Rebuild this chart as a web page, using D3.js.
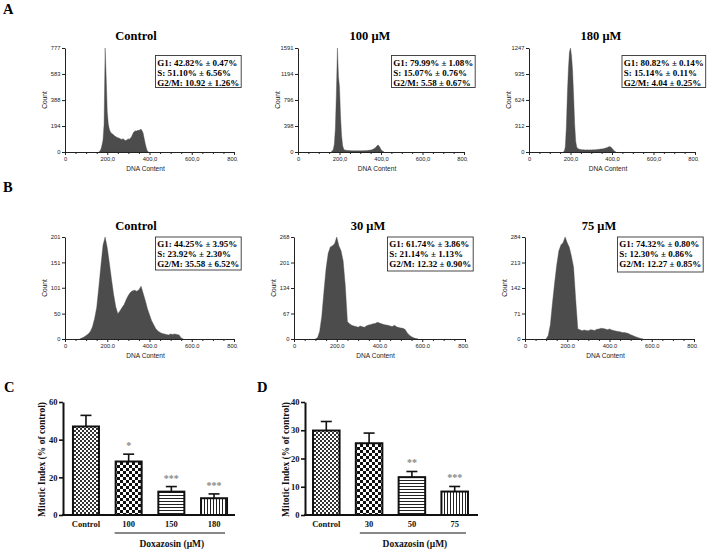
<!DOCTYPE html>
<html><head><meta charset="utf-8">
<script src="https://cdn.jsdelivr.net/npm/d3@7"></script>
<style>body{margin:0;background:#fff}svg{display:block}</style>
</head><body><svg id="c" width="710" height="553"></svg>
<script>
// ---------------- DATA ----------------
const dnaTicks = [0, 200, 400, 600, 800];
const dnaTickLabelsA = ["0", "200,0", "400,0", "600,0", "800,0"];
const dnaTickLabelsB = ["0", "200.0", "400.0", "600.0", "800.0"];

// Panel A histograms (DNA channel start, channel step, counts)
const ctrlA_start = 160, ctrlA_step = 5;
const ctrlA_counts = [0,5,20,50,90,210,777,560,300,210,170,150,140,135,128,120,115,110,106,104,100,96,94,100,92,86,88,94,98,96,104,114,132,148,155,158,156,164,160,166,170,158,140,100,62,30,8,0];
const ctrlA_yTicks = [0, 194, 388, 583, 777];
const ctrlA_legend = ["G1: 42.82% \u00b1 0.47%", "S: 51.10% \u00b1 6.56%", "G2/M: 10.92 \u00b1 1.26%"];

const dox100_start = 160, dox100_step = 5;
const dox100_counts = [0,15,40,120,350,900,1591,1150,1000,550,250,100,45,32,28,25,24,22,22,20,21,19,18,20,18,19,18,20,18,20,21,20,22,21,22,24,25,27,30,34,40,48,58,72,92,108,96,68,40,18,6,0];
const dox100_yTicks = [0, 398, 796, 1194, 1591];
const dox100_legend = ["G1: 79.99% \u00b1 1.08%", "S: 15.07% \u00b1 0.76%", "G2/M: 5.58 \u00b1 0.67%"];

const dox180_start = 165, dox180_step = 5;
const dox180_counts = [0,10,60,300,700,1000,1200,1247,1150,980,680,340,130,60,42,36,32,30,28,26,27,25,24,26,25,24,26,25,27,26,28,27,29,30,32,33,35,36,38,40,44,48,52,58,62,65,58,46,30,14,4,0];
const dox180_yTicks = [0, 312, 624, 935, 1247];
const dox180_legend = ["G1: 80.82% \u00b1 0.14%", "S: 15.14% \u00b1 0.11%", "G2/M: 4.04 \u00b1 0.25%"];

// Panel B histograms
const ctrlB_start = 70, ctrlB_step = 10;
const ctrlB_counts = [0,2,4,7,10,15,24,40,62,102,145,185,201,180,150,118,88,64,50,55,62,68,78,86,92,95,96,94,97,104,90,76,60,48,36,28,20,16,13,11,10,9,8,10,9,10,9,8,2,0];
const ctrlB_yTicks = [0, 50, 101, 151, 201];
const ctrlB_legend = ["G1: 44.25% \u00b1 3.95%", "S: 23.92% \u00b1 2.30%", "G2/M: 35.58 \u00b1 6.52%"];

const dox30_start = 100, dox30_step = 10;
const dox30_counts = [0,3,20,60,125,185,225,242,245,250,268,245,232,205,140,45,40,36,34,33,31,34,32,31,35,37,38,40,41,44,42,40,38,37,36,34,33,36,32,30,29,28,25,16,10,6,3,1,0];
const dox30_yTicks = [0, 67, 134, 201, 268];
const dox30_legend = ["G1: 61.74% \u00b1 3.86%", "S: 21.14% \u00b1 1.13%", "G2/M: 12.32 \u00b1 0.90%"];

const dox75_start = 100, dox75_step = 10;
const dox75_counts = [0,10,40,100,155,205,245,262,268,284,268,255,230,200,110,28,26,23,25,24,23,26,25,24,27,28,30,29,28,26,28,25,24,22,21,20,18,18,17,15,12,10,7,5,3,1,0];
const dox75_yTicks = [0, 71, 142, 213, 284];
const dox75_legend = ["G1: 74.32% \u00b1 0.80%", "S: 12.30% \u00b1 0.86%", "G2/M: 12.27 \u00b1 0.85%"];

// Panel C / D bar charts
const catsC = ["Control", "100", "150", "180"];
const meanC = [47.0, 28.4, 12.4, 8.9];
const semC  = [5.9, 3.9, 2.7, 2.3];
const starsC = ["", "*", "***", "***"];
const yTicksC = [0, 20, 40, 60];

const catsD = ["Control", "30", "50", "75"];
const meanD = [29.9, 25.4, 13.4, 8.3];
const semD  = [3.2, 3.6, 2.0, 1.8];
const starsD = ["", "", "**", "***"];
const yTicksD = [0, 10, 20, 30, 40];

// ---------------- DRAWING ----------------
const svg = d3.select("#c");
svg.append("rect").attr("width", 710).attr("height", 553).attr("fill", "#fff");
const defs = svg.append("defs");

const SANS = "'Liberation Sans', Arial, sans-serif";
const SERIF = "'Liberation Serif', 'Times New Roman', serif";

function toSeries(start, step, counts) {
  return counts.map((c, i) => ({ dna: start + i * step, count: c }));
}

let clipId = 0;
function drawHist(o) {
  const x = d3.scaleLinear().domain([0, 800]).range([o.x0, o.x1]);
  const ymax = o.yTicks[o.yTicks.length - 1];
  const y = d3.scaleLinear().domain([0, ymax]).range([o.yBot, o.yTop]);
  const id = "clip" + (clipId++);
  defs.append("clipPath").attr("id", id).append("rect")
    .attr("x", o.x0 - 40).attr("y", o.yTop - 30).attr("width", o.x1 - o.x0 + 44).attr("height", o.yBot - o.yTop + 60);
  const g = svg.append("g").attr("clip-path", `url(#${id})`);

  const area = d3.area().x(d => x(d.dna)).y0(y(0)).y1(d => y(d.count)).curve(d3.curveLinear);
  g.append("path").datum(o.series).attr("d", area).attr("fill", "#4c4c4c").attr("stroke", "#4c4c4c").attr("stroke-width", 0.4);

  // y axis
  const ya = g.append("g").attr("transform", `translate(${o.x0},0)`)
    .call(d3.axisLeft(y).tickValues(o.yTicks).tickFormat(d => String(d)).tickSize(3).tickPadding(1.5).tickSizeOuter(0));
  ya.select(".domain").attr("stroke", "#222");
  ya.selectAll("line").attr("stroke", "#222");
  ya.selectAll("text").attr("font-family", SANS).attr("font-size", 5.8).attr("fill", "#222");

  // x axis with minor ticks
  const minor = d3.range(0, 801, 50).filter(v => v % 200 !== 0);
  const xm = g.append("g").attr("transform", `translate(0,${o.yBot})`)
    .call(d3.axisBottom(x).tickValues(minor).tickSize(2).tickFormat(""));
  xm.select(".domain").remove();
  xm.selectAll("line").attr("stroke", "#222");
  const xa = g.append("g").attr("transform", `translate(0,${o.yBot})`)
    .call(d3.axisBottom(x).tickValues(dnaTicks).tickSize(3).tickPadding(1.5).tickSizeOuter(0)
      .tickFormat((d, i) => o.xLabels[i]));
  xa.select(".domain").attr("stroke", "#222");
  xa.selectAll("line").attr("stroke", "#222");
  xa.selectAll("text").attr("font-family", SANS).attr("font-size", 5.8).attr("fill", "#222");

  g.append("text").attr("transform", `translate(${o.x0 - 18},${(o.yTop + o.yBot) / 2}) rotate(-90)`)
    .attr("text-anchor", "middle").attr("font-family", SANS).attr("font-size", 6.6).attr("fill", "#222").text("Count");
  g.append("text").attr("x", (o.x0 + o.x1) / 2 - 4).attr("y", o.yBot + 19)
    .attr("text-anchor", "middle").attr("font-family", SANS).attr("font-size", 6.6).attr("fill", "#222").text("DNA Content");

  // title
  svg.append("text").attr("x", o.titleX).attr("y", o.titleY).attr("text-anchor", "middle")
    .attr("font-family", SERIF).attr("font-weight", "bold").attr("font-size", 12.5).text(o.title);

  // legend box
  const lg = svg.append("g");
  const tx = lg.selectAll("text").data(o.legend).join("text")
    .attr("x", o.boxX + 2.2).attr("y", (d, i) => o.boxY + 10.5 + i * 10)
    .attr("font-family", SERIF).attr("font-weight", "bold").attr("font-size", 9).text(d => d);
  let w = 0;
  tx.each(function () { w = Math.max(w, this.getComputedTextLength()); });
  lg.insert("rect", "text").attr("x", o.boxX + 0.5).attr("y", o.boxY + 0.5)
    .attr("width", w + 3.5).attr("height", o.boxH).attr("fill", "#fff").attr("stroke", "#333").attr("stroke-width", 0.9);
}

const histDefs = [
  { series: toSeries(ctrlA_start, ctrlA_step, ctrlA_counts), yTicks: ctrlA_yTicks, legend: ctrlA_legend, xLabels: dnaTickLabelsA,
    x0: 65, x1: 234, yTop: 48, yBot: 152, title: "Control", titleX: 136, titleY: 40, boxX: 155, boxY: 55, boxH: 32 },
  { series: toSeries(dox100_start, dox100_step, dox100_counts), yTicks: dox100_yTicks, legend: dox100_legend, xLabels: dnaTickLabelsA,
    x0: 298, x1: 464, yTop: 48, yBot: 152, title: "100 \u03bcM", titleX: 370, titleY: 40, boxX: 391, boxY: 55, boxH: 32 },
  { series: toSeries(dox180_start, dox180_step, dox180_counts), yTicks: dox180_yTicks, legend: dox180_legend, xLabels: dnaTickLabelsA,
    x0: 529, x1: 695, yTop: 48, yBot: 152, title: "180 \u03bcM", titleX: 601, titleY: 40, boxX: 621.5, boxY: 55, boxH: 32 },
  { series: toSeries(ctrlB_start, ctrlB_step, ctrlB_counts), yTicks: ctrlB_yTicks, legend: ctrlB_legend, xLabels: dnaTickLabelsB,
    x0: 65, x1: 234, yTop: 237, yBot: 339, title: "Control", titleX: 136, titleY: 230, boxX: 155, boxY: 236.5, boxH: 33 },
  { series: toSeries(dox30_start, dox30_step, dox30_counts), yTicks: dox30_yTicks, legend: dox30_legend, xLabels: dnaTickLabelsB,
    x0: 294, x1: 465, yTop: 237, yBot: 339, title: "30 \u03bcM", titleX: 368, titleY: 230, boxX: 387, boxY: 236.5, boxH: 34 },
  { series: toSeries(dox75_start, dox75_step, dox75_counts), yTicks: dox75_yTicks, legend: dox75_legend, xLabels: dnaTickLabelsB,
    x0: 525, x1: 694, yTop: 237, yBot: 339, title: "75 \u03bcM", titleX: 599, titleY: 230, boxX: 617, boxY: 236.5, boxH: 35 }
];
histDefs.forEach(drawHist);

// patterns
function pat(id, w, h, build) {
  const p = defs.append("pattern").attr("id", id).attr("patternUnits", "userSpaceOnUse").attr("width", w).attr("height", h);
  p.append("rect").attr("width", w).attr("height", h).attr("fill", "#fff");
  build(p);
}
pat("pFine", 4, 4, p => {
  p.append("rect").attr("x", 0).attr("y", 0).attr("width", 2).attr("height", 2).attr("fill", "#333");
  p.append("rect").attr("x", 2).attr("y", 2).attr("width", 2).attr("height", 2).attr("fill", "#333");
});
pat("pCoarse", 6, 6, p => {
  p.append("rect").attr("x", 0).attr("y", 0).attr("width", 3).attr("height", 3).attr("fill", "#111");
  p.append("rect").attr("x", 3).attr("y", 3).attr("width", 3).attr("height", 3).attr("fill", "#111");
});
pat("pHoriz", 4, 3, p => {
  p.append("rect").attr("x", 0).attr("y", 0).attr("width", 4).attr("height", 1).attr("fill", "#222");
});
pat("pVert", 3, 4, p => {
  p.append("rect").attr("x", 0).attr("y", 0).attr("width", 1).attr("height", 4).attr("fill", "#222");
});
const patterns = ["url(#pFine)", "url(#pCoarse)", "url(#pHoriz)", "url(#pVert)"];

function drawBars(o) {
  const x = d3.scaleBand().domain(o.cats).range(o.xRange).paddingInner(o.pi).paddingOuter(o.po);
  const ymax = o.yTicks[o.yTicks.length - 1];
  const y = d3.scaleLinear().domain([0, ymax]).range([o.yBot, o.yTop]);
  const g = svg.append("g");
  const bw = x.bandwidth();

  // error bars (upper only)
  g.selectAll(".eb").data(o.cats).join("g").each(function (c, i) {
    const cx = x(c) + bw / 2;
    const s = d3.select(this);
    s.append("line").attr("x1", cx).attr("x2", cx).attr("y1", y(o.mean[i])).attr("y2", y(o.mean[i] + o.sem[i]))
      .attr("stroke", "#111").attr("stroke-width", 1.6);
    s.append("line").attr("x1", cx - 5.5).attr("x2", cx + 5.5).attr("y1", y(o.mean[i] + o.sem[i])).attr("y2", y(o.mean[i] + o.sem[i]))
      .attr("stroke", "#111").attr("stroke-width", 1.6);
  });
  g.selectAll(".bar").data(o.cats).join("rect")
    .attr("x", c => x(c) + 1).attr("width", bw - 2)
    .attr("y", (c, i) => y(o.mean[i])).attr("height", (c, i) => y(0) - y(o.mean[i]))
    .attr("fill", (c, i) => patterns[i]).attr("stroke", "#111").attr("stroke-width", 2);

  // stars
  g.selectAll(".star").data(o.cats).join("text")
    .attr("x", c => x(c) + bw / 2).attr("y", (c, i) => y(o.mean[i] + o.sem[i]) - 5)
    .attr("text-anchor", "middle").attr("font-family", SERIF).attr("font-weight", "bold").attr("font-size", 10)
    .attr("fill", "#888").text((c, i) => o.stars[i]);

  // y axis
  const ya = g.append("g").attr("transform", `translate(${o.xRange[0]},0)`)
    .call(d3.axisLeft(y).tickValues(o.yTicks).tickSize(4).tickPadding(1.5).tickSizeOuter(0));
  ya.select(".domain").attr("stroke", "#111").attr("stroke-width", 2);
  ya.selectAll("line").attr("stroke", "#111").attr("stroke-width", 1.6);
  ya.selectAll("text").attr("font-family", SERIF).attr("font-weight", "bold").attr("font-size", 8.5).attr("fill", "#111");

  // x axis
  g.append("line").attr("x1", o.xRange[0] - 1).attr("x2", o.xAxisEnd).attr("y1", o.yBot).attr("y2", o.yBot)
    .attr("stroke", "#111").attr("stroke-width", 2);
  g.selectAll(".cl").data(o.cats).join("text")
    .attr("x", c => x(c) + bw / 2).attr("y", o.yBot + 11.5).attr("text-anchor", "middle")
    .attr("font-family", SERIF).attr("font-weight", "bold").attr("font-size", 8.5).attr("fill", "#111").text(c => c);

  // underline group label
  const ux1 = x(o.cats[1]) + o.uOff, ux2 = x(o.cats[3]) + bw - 3;
  g.append("line").attr("x1", ux1).attr("x2", ux2).attr("y1", o.yBot + 18).attr("y2", o.yBot + 18)
    .attr("stroke", "#111").attr("stroke-width", 1);
  g.append("text").attr("x", (ux1 + ux2) / 2 + 2).attr("y", o.yBot + 32).attr("text-anchor", "middle")
    .attr("font-family", SERIF).attr("font-weight", "bold").attr("font-size", 9.5).attr("fill", "#111").text("Doxazosin (\u03bcM)");

  g.append("text").attr("transform", `translate(${o.yLabelX},${(o.yTop + o.yBot) / 2 + 1}) rotate(-90)`)
    .attr("text-anchor", "middle").attr("font-family", SERIF).attr("font-weight", "bold").attr("font-size", 9.5)
    .attr("fill", "#111").text("Mitotic Index (% of control)");
}

drawBars({ cats: catsC, mean: meanC, sem: semC, stars: starsC, yTicks: yTicksC,
  xRange: [63, 237], pi: 0.344, po: 0.21, xAxisEnd: 235, yTop: 402, yBot: 515, yLabelX: 45, uOff: 0 });
drawBars({ cats: catsD, mean: meanD, sem: semD, stars: starsD, yTicks: yTicksD,
  xRange: [305, 476], pi: 0.333, po: 0.164, xAxisEnd: 478, yTop: 402, yBot: 515, yLabelX: 289, uOff: 5 });

// panel letters
const letters = [["A", 3, 14], ["B", 3, 192], ["C", 4, 392], ["D", 257, 392]];
svg.selectAll(".letter").data(letters).join("text")
  .attr("x", d => d[1]).attr("y", d => d[2])
  .attr("font-family", SERIF).attr("font-weight", "bold").attr("font-size", 14.5).text(d => d[0]);
</script></body></html>
